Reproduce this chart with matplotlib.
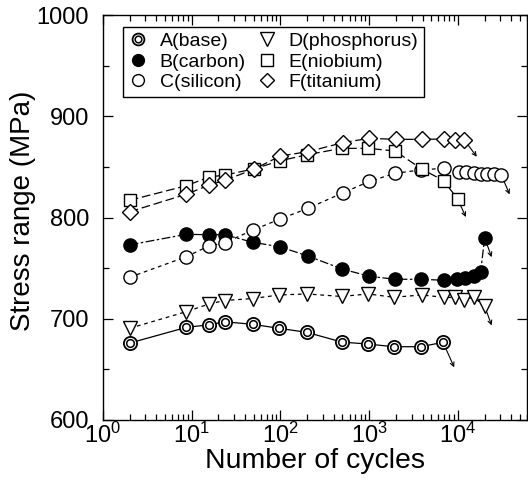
import matplotlib.pyplot as plt
from matplotlib.lines import Line2D
from matplotlib.legend_handler import HandlerTuple
from matplotlib.ticker import MultipleLocator, LogLocator, NullFormatter

plt.rcParams['font.family'] = ['Liberation Sans', 'DejaVu Sans']

# Data (cycles, stress range in MPa)
a_n = [2, 8.7, 15.5, 23.5, 49, 97, 198, 490, 970, 1880, 3800, 6800]
a_s = [676, 691.5, 694, 697, 694.5, 690.5, 686.6, 677, 675, 672.4, 672.4, 676.7]

b_n = [2, 8.7, 15.5, 23.5, 49, 99, 203, 500, 1000, 1950, 3800, 7000,
       9800, 12000, 15000, 18000, 20000]
b_s = [773, 783.4, 783, 783, 775.5, 771, 762, 749, 742, 739, 739, 738,
       739, 740, 742, 746, 780]

c_n = [2, 8.7, 15.7, 23.5, 49, 99, 203, 510, 1000, 1950, 3800, 6900,
       10300, 12400, 15100, 18000, 21400, 25300, 30800]
c_s = [741, 761.3, 772, 775, 787.6, 798.5, 809, 824.5, 835.6, 843.6, 847, 848.6,
       844.6, 844.6, 843.6, 842.6, 842.6, 842.6, 842]

d_n = [2, 8.7, 15.7, 23.5, 49, 97, 198, 490, 970, 1900, 3900, 6900,
       9300, 11600, 15000, 20000]
d_s = [690.6, 707, 714.6, 718, 720, 723.5, 724.5, 722, 724.5, 721.2, 723.5, 721.2,
       721, 719, 721, 712.6]

e_n = [2, 8.7, 15.7, 24, 50, 99, 200, 490, 980, 1950, 3950, 6900, 9900]
e_s = [817, 831.4, 840, 842, 848, 856, 862, 868.3, 868.3, 865.7, 847.6, 836.4, 818.3]

f_n = [2, 8.7, 15.7, 24, 50, 99, 203, 510, 1000, 2000, 3900, 6900, 9300, 11800]
f_s = [805.7, 823, 832, 837, 847.6, 860.7, 865, 874, 878.2, 877.2, 877.2, 877.5,
       876.5, 876.5]

labels = ["A(base)", "B(carbon)", "C(silicon)",
          "D(phosphorus)", "E(niobium)", "F(titanium)"]

fig = plt.figure(figsize=(5.28, 4.88), dpi=100)
ax = fig.add_axes([103 / 528, 1 - 420 / 488, 424 / 528, 405 / 488])

lw = 0.9
ms = 9.5
# A: double circle, solid line
ax.plot(a_n, a_s, '-', color='black', lw=lw, marker='o', ms=ms,
        mfc='white', mec='black', mew=1.3, zorder=3)
ax.plot(a_n, a_s, 'none', marker='o', ms=5.5, mfc='white', mec='black',
        mew=1.1, zorder=4)
# B: filled circle
ax.plot(b_n, b_s, color='black', lw=lw, dashes=(7, 2, 2, 2), marker='o', ms=ms,
        mfc='black', mec='black', zorder=3)
# C: open circle
ax.plot(c_n, c_s, color='black', lw=lw, dashes=(3, 3), marker='o', ms=ms,
        mfc='white', mec='black', mew=1.0, zorder=3)
# D: down triangle
ax.plot(d_n, d_s, color='black', lw=lw, dashes=(3, 3), marker='v', ms=ms + 1,
        mfc='white', mec='black', mew=1.0, zorder=3)
# E: square
ax.plot(e_n, e_s, color='black', lw=lw, dashes=(7, 3), marker='s', ms=ms - 0.5,
        mfc='white', mec='black', mew=1.0, zorder=3)
# F: diamond
ax.plot(f_n, f_s, color='black', lw=lw, dashes=(7, 3), marker='D', ms=ms - 1,
        mfc='white', mec='black', mew=1.0, zorder=3)

# run-out arrows from the last point of each series
arrows = [(a_n, a_s, (8, -18)), (b_n, b_s, (5, -14)), (c_n, c_s, (6, -14)),
          (d_n, d_s, (5, -14)), (e_n, e_s, (6, -13)), (f_n, f_s, (9, -12))]
for xs, ys, off in arrows:
    ax.annotate('', xy=(xs[-1], ys[-1]), xytext=off, textcoords='offset points',
                arrowprops=dict(arrowstyle='<-', lw=0.8, color='black',
                                shrinkA=0, shrinkB=5, mutation_scale=7))

ax.set_xscale('log')
ax.set_xlim(1, 6e4)
ax.set_ylim(600, 1000)
ax.yaxis.set_major_locator(MultipleLocator(100))
ax.yaxis.set_minor_locator(MultipleLocator(50))
ax.xaxis.set_major_locator(LogLocator(base=10, numticks=10))
ax.xaxis.set_minor_locator(LogLocator(base=10, subs=range(2, 10), numticks=20))
ax.xaxis.set_minor_formatter(NullFormatter())
ax.tick_params(which='both', direction='in', top=True, right=True, width=0.9)
ax.tick_params(which='major', length=7, labelsize=17)
ax.tick_params(axis='x', which='major', pad=2)
ax.tick_params(axis='y', which='major', pad=10)
ax.tick_params(which='minor', length=4)
for sp in ax.spines.values():
    sp.set_linewidth(1.0)

ax.set_xlabel("Number of cycles", fontsize=20.5, labelpad=0)
ax.set_ylabel("Stress range (MPa)", fontsize=20)
ax.yaxis.set_label_coords(-0.158, 0.517)

# legend
def h(marker, fc, size):
    return Line2D([], [], ls='none', marker=marker, ms=size, mfc=fc,
                  mec='black', mew=1.0)

lm = 8.5
outer = Line2D([], [], ls='none', marker='o', ms=lm, mfc='white', mec='black', mew=1.3)
inner = Line2D([], [], ls='none', marker='o', ms=4.8, mfc='white', mec='black', mew=1.1)
handles = [(outer, inner), h('o', 'black', lm), h('o', 'white', lm),
           h('v', 'white', lm + 1), h('s', 'white', lm - 0.5), h('D', 'white', lm - 1)]
leg = ax.legend(handles, labels, ncol=2, loc='upper left',
                bbox_to_anchor=(0.024, 0.995), fontsize=14, frameon=True,
                fancybox=False, edgecolor='black', framealpha=1,
                handlelength=1.0, handletextpad=0.6, columnspacing=0.6,
                labelspacing=0.15, borderpad=0.3,
                handler_map={tuple: HandlerTuple(ndivide=1)})
leg.get_frame().set_linewidth(1.0)

fig.savefig('out.png', dpi=100)
